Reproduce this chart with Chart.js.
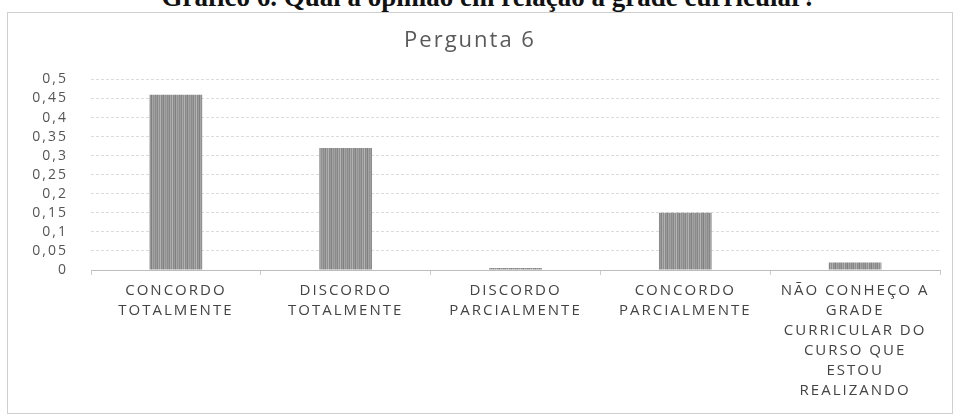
<!DOCTYPE html>
<html>
<head>
<meta charset="utf-8">
<script src="https://cdn.jsdelivr.net/npm/chart.js@4.4.1/dist/chart.umd.min.js"></script>
<style>
  html, body { margin: 0; padding: 0; background: #fff; overflow: hidden; }
  #head {
    position: absolute; left: 12px; top: -18px; width: 954px;
    text-align: center; font: bold 27px "Liberation Serif", serif;
    line-height: 30px; color: #111; white-space: nowrap;
  }
  #box {
    position: absolute; left: 7px; top: 12px; width: 944px; height: 400px;
    border: 1px solid #cfcfcf;
  }
  #wrap { position: absolute; left: 0; top: 0; width: 954px; height: 417px; }
</style>
</head>
<body>
<div id="head">Gráfico 6. Qual a opinião em relação a grade curricular?</div>
<div id="box"></div>
<div id="wrap"><canvas id="chart" width="954" height="417"></canvas></div>
<script>
// dados
const categorias = [
  ['CONCORDO', 'TOTALMENTE'],
  ['DISCORDO', 'TOTALMENTE'],
  ['DISCORDO', 'PARCIALMENTE'],
  ['CONCORDO', 'PARCIALMENTE'],
  ['NÃO CONHEÇO A', 'GRADE', 'CURRICULAR DO', 'CURSO QUE', 'ESTOU', 'REALIZANDO']
];
const valores = [0.46, 0.32, 0.005, 0.15, 0.02];
const tituloGrafico = 'Pergunta 6';
const yMax = 0.5;
const yPasso = 0.05;

// textura listrada das barras (escaneado)
function listras() {
  const c = document.createElement('canvas');
  c.width = 12; c.height = 4;
  const g = c.getContext('2d');
  const tons = ['#9c9c9c', '#858585', '#aaaaaa', '#8f8f8f', '#b2b2b2', '#8a8a8a',
                '#9a9a9a', '#808080', '#a5a5a5', '#929292', '#a0a0a0', '#8b8b8b'];
  tons.forEach((t, i) => { g.fillStyle = t; g.fillRect(i, 0, 1, 4); });
  return g.createPattern(c, 'repeat');
}

const espacamento = {
  id: 'espacamento',
  beforeUpdate(chart) { chart.ctx.letterSpacing = '2px'; },
  beforeDraw(chart) { chart.ctx.letterSpacing = '2px'; }
};

const ctx = document.getElementById('chart').getContext('2d');
const chart = new Chart(ctx, {
  type: 'bar',
  data: {
    labels: categorias,
    datasets: [{
      data: valores,
      backgroundColor: listras(),
      borderWidth: 0,
      categoryPercentage: 1,
      barPercentage: 0.31
    }]
  },
  plugins: [espacamento],
  options: {
    responsive: false,
    animation: false,
    layout: { padding: { left: 0, right: 14, top: 0, bottom: 0 } },
    plugins: {
      legend: { display: false },
      tooltip: { enabled: false },
      title: {
        display: true,
        text: tituloGrafico,
        color: '#5a5a5a',
        font: { family: 'Open Sans', size: 22, weight: 'normal' },
        padding: { top: 28, bottom: 25 }
      }
    },
    scales: {
      x: {
        offset: true,
        grid: { display: true, drawOnChartArea: false, tickLength: 5, color: '#cccccc', offset: true },
        border: { display: true, color: '#bdbdbd' },
        ticks: {
          color: '#444',
          autoSkip: false,
          maxRotation: 0,
          padding: 6,
          font: { family: 'Open Sans', size: 15, lineHeight: 1.33 }
        },
        afterFit(s) { s.height = 147; }
      },
      y: {
        min: 0,
        max: yMax,
        grid: { color: '#dcdcdc', drawTicks: false },
        border: { display: false, dash: [3, 2] },
        ticks: {
          stepSize: yPasso,
          autoSkip: false,
          padding: 23,
          color: '#555',
          font: { family: 'Open Sans', size: 14 },
          callback: v => String(Math.round(v * 100) / 100).replace('.', ',')
        },
        afterFit(s) { s.width = 91; }
      }
    }
  }
});
</script>
</body>
</html>
